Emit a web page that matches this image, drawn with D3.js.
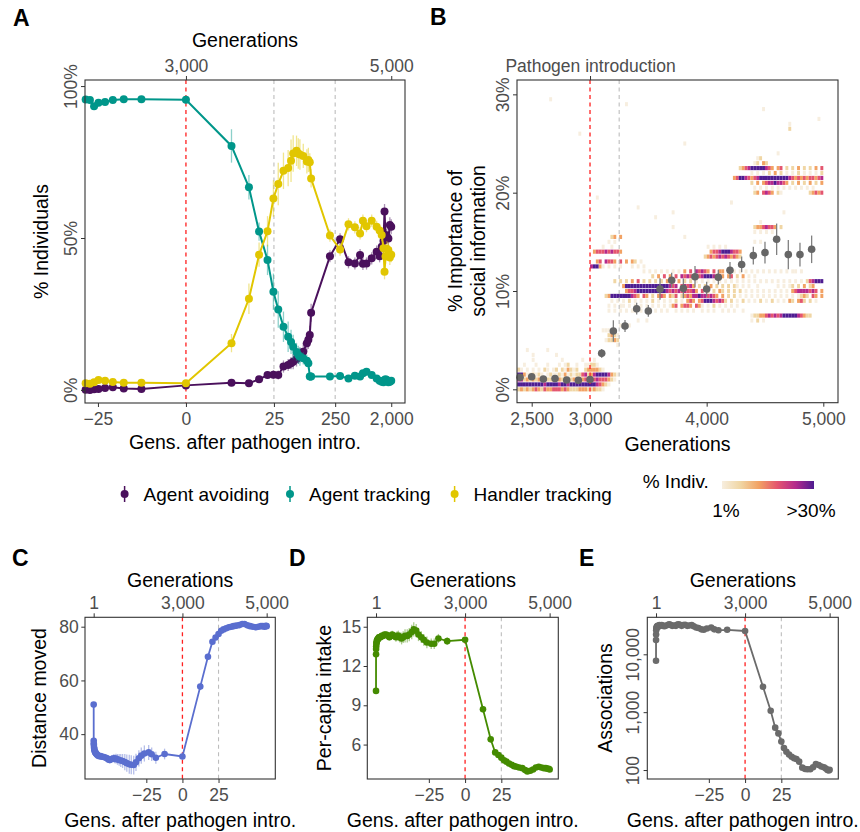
<!DOCTYPE html>
<html>
<head>
<meta charset="utf-8">
<script src="https://cdn.jsdelivr.net/npm/d3@7"></script>
<style>
  body { margin: 0; background: #fff; }
  svg text { font-family: "Liberation Sans", Arial, sans-serif; }
</style>
</head>
<body>
<div id="chart"></div>
<script>
var svgWidth = 860;
var svgHeight = 832;

// ---- Panel A: strategy shares, gens relative to pathogen intro ----
var gensA = [-40, -34, -29, -24.5, -19, -14, -9, -4.2, 0,
  4.4, 9.3, 14, 19.5, 24.5, 29.5, 36, 43, 48, 52, 59, 63, 67, 76, 87, 92, 97, 102,
  206, 300, 410, 520, 630, 700, 800, 970, 1165, 1300, 1405, 1500, 1560, 1620, 1700, 1800, 1900, 2000];
var avoidA = [0.1, 0.0, 0.2, 0.3, 0.6, 0.9, 0.5, 0.3, 1.5,
  2.4, 2.2, 3.5, 4.9, 5.0, 4.9, 7.7, 8.2, 8.8, 9.3, 10.2, 11.0, 11.5, 12.6, 15.4, 16.5, 18.1, 25.4,
  44, 49.6, 42, 41.6, 44.4, 41.5, 41.6, 43.3, 45.5, 44, 47.1, 49, 58.7, 51, 50.5, 49.8, 54.3, 53.7];
var trackA = [95.6, 95.4, 93.4, 94.5, 94.8, 95.4, 95.7, 95.7, 95.5,
  80.3, 66.7, 52.1, 42.8, 32.3, 26.5, 20.8, 17.5, 15.8, 14.2, 12.5, 11.5, 11.0, 10.4, 9.6, 8.8, 4.4, 4.4,
  4.4, 4.6, 3.8, 4.7, 4.4, 5.5, 6.0, 4.9, 3.8, 3.0, 2.7, 2.5, 3.3, 3.5, 3.3, 2.5, 2.7, 3.0];
var handlerA = [2.2, 2.0, 2.5, 3.3, 3.0, 2.6, 2.4, 2.4, 2.2,
  15.4, 30, 44.5, 52.2, 63, 67.8, 72.1, 73, 75.4, 77.8, 78.7, 77.8, 77.5, 77, 75.2, 75.7, 74.9, 69.6,
  50.8, 46.2, 54.5, 53.5, 51.5, 55.7, 53.9, 55.7, 53.7, 52.5, 51, 46.6, 38.9, 43.9, 46.5, 46, 43.6, 44.5];
var avoidErrA = [0.4, 0.4, 0.4, 0.4, 0.4, 0.4, 0.4, 0.4, 0.4,
  0.8, 0.8, 1, 1.2, 1.5, 1.5, 2, 2, 2, 2.5, 2.5, 2.5, 2.5, 3, 3, 3, 3, 3,
  2, 2, 2, 2, 2, 2, 2, 2, 2, 2, 2, 2, 2.5, 2.5, 2.5, 2.5, 2.5, 2.5];
var trackErrA = [0.5, 0.5, 0.5, 0.5, 0.5, 0.5, 0.5, 0.5, 0.5,
  5.5, 4, 3, 5, 6, 6, 5, 5, 4, 4, 3, 3, 3, 2, 2, 2, 1.5, 1.5,
  1, 1, 1, 1, 1, 1, 1, 1, 1, 1, 1, 1, 1, 1, 1, 1, 1, 1];
var handlerErrA = [0.5, 0.5, 0.5, 0.5, 0.5, 0.5, 0.5, 0.5, 0.5,
  3, 5, 4, 5, 6, 7, 6, 6, 7, 6, 5, 5, 5, 4, 4, 4, 3, 3,
  2, 2, 2, 2, 2, 2, 2, 2, 2, 2, 2, 2, 2.5, 2.5, 2.5, 2.5, 2.5, 2.5];
var strategyNames = ["Agent avoiding", "Agent tracking", "Handler tracking"];
var strategyColors = ["#4a105c", "#00968a", "#e1c600"];

// ---- Panel B: social information importance ----
var gensB = [2400, 2500, 2600, 2700, 2800, 2900, 3000, 3100, 3200, 3300, 3400, 3500, 3600,
  3700, 3800, 3900, 4000, 4100, 4200, 4300, 4400, 4500, 4600, 4700, 4800, 4900];
var meanB = [1.22, 1.28, 1.05, 1.1, 0.95, 0.92, 1.0, 3.66, 5.93, 6.44, 8.2, 7.97, 10.2,
  11.1, 10.27, 11.45, 10.2, 11.4, 12.1, 12.7, 13.6, 13.9, 15.26, 13.7, 13.7, 14.24];
var errB = [0.2, 0.2, 0.2, 0.2, 0.2, 0.2, 0.2, 0.45, 1.1, 0.6, 0.6, 0.6, 1.1,
  0.75, 1.0, 1.1, 0.75, 0.75, 0.85, 0.8, 0.9, 1.1, 1.6, 1.5, 1.2, 1.4];
// heatmap rows: [% bin, first generation, one level digit per 25 generations]
var heatRows = [
  [0.0, 2375, "2323234324334443432223332232210"],
  [0.5, 2375, "66666666656666566566666666654321"],
  [1.0, 2375, "55232323222232322223343443454443210"],
  [1.5, 2375, "66311212101211213121224523566665321"],
  [2.0, 2375, "210101010210120213212002333321"],
  [2.5, 2375, "0010001000100010120010011221"],
  [3.0, 2375, "000001000000000100000010001"],
  [3.5, 2500, "1000000010"],
  [4.0, 2450, "10000001"],
  [4.5, 3225, "1"],
  [5.0, 3125, "12232"],
  [5.5, 3150, "2321"],
  [6.0, 3075, "011100"],
  [6.5, 3250, "1001"],
  [7.0, 3400, "1001"],
  [7.0, 4350, "0102010"],
  [7.5, 4375, "122334545456666654322"],
  [8.0, 3150, "10101010110100101010100101010100101010010101001"],
  [8.5, 3150, "1010110101010101010101340344304310102010101010"],
  [9.0, 3175, "101010201010102010101020103430346665454202010201010201020101032034202010"],
  [9.5, 3125, "236666666543043020343032402343556554543030202010101010101010101010123204303"],
  [10.0, 3300, "34456666666666545454544530402020320202020101010101010101034555545403"],
  [10.5, 3275, "3666666666666666545045453020203020202021010100100000010101202030230"],
  [11.0, 3200, "202020304020202020304030202010101010101010101010101010101010101010245666"],
  [11.5, 3525, "2030403040545435456665443034020301010"],
  [12.0, 3450, "1010101010101030405454304033020101010101010101010101101"],
  [12.5, 3000, "5663101010100010101"],
  [13.0, 3050, "34054430403032010"],
  [13.5, 3975, "2343454543432"],
  [14.0, 3025, "3444545443"],
  [14.0, 4025, "34456665443"],
  [14.5, 3100, "1001"],
  [14.5, 4000, "1010101"],
  [15.0, 3150, "1010"],
  [15.0, 4400, "101"],
  [15.5, 3175, "2303"],
  [15.5, 3800, "1"],
  [16.0, 4400, "1010101"],
  [16.5, 3700, "1"],
  [16.5, 4400, "2334544302"],
  [17.0, 4450, "1"],
  [17.5, 3550, "1"],
  [18.0, 3700, "1"],
  [18.0, 4650, "1"],
  [18.5, 3400, "1"],
  [19.0, 4200, "1"],
  [19.5, 3050, "1"],
  [20.0, 4400, "2304543021"],
  [20.0, 4875, "23434"],
  [20.5, 4400, "1010101010101010101010"],
  [21.0, 4375, "2030345565543020302030203"],
  [21.5, 4225, "3466543456666666666543434344345"],
  [22.0, 4375, "1010102030201010201010102"],
  [22.5, 4275, "23456666654303402020302020304"],
  [23.0, 4400, "12032"],
  [23.5, 4425, "12"],
  [24.0, 4600, "1"],
  [25.0, 3800, "1"],
  [26.0, 2900, "1"],
  [26.5, 4700, "2"],
  [27.0, 4700, "1"],
  [27.5, 4950, "1"],
  [28.5, 4475, "1"],
  [29.0, 3300, "1"],
  [29.5, 2650, "1"]
];
var heatColors = ["#f7eedf", "#f0d6a4", "#f2a264", "#e4566f", "#b42a8c", "#4e1c91"];

// ---- Panels C-E: shared generation sampling ----
var gensCDE = [-2999, -2990, -2975, -2950, -2900, -2850, -2800, -2700, -2600, -2500, -2400, -2300, -2200,
  -2000, -1800, -1600, -1400, -1200, -1000, -900, -800, -700, -600, -500, -450, -400, -350, -300,
  -260, -220, -180, -150, -120, -100, -80, -65, -50, -40, -30, -20, -15, -10, -4, 0,
  4, 9, 14, 19, 25, 32, 40, 51, 65, 81, 100, 128, 170, 220, 270, 350, 450, 580, 750, 950, 1200, 1420, 1650, 1850, 2000];
var distanceC = [51, 37.5, 36.5, 36, 35, 34.5, 34, 33.5, 33.2, 33, 32.8, 32.5, 32.3,
  32, 31.8, 31.8, 31.6, 31.5, 31.2, 31, 30.6, 30.4, 30.7, 31, 30.8, 30.9, 30.6, 30.4,
  30.2, 30, 29.6, 29.2, 28.8, 28.6, 28.5, 29.5, 31, 32, 32.8, 33.2, 32.5, 31.2, 32.6, 31.7,
  57.7, 68.8, 74.4, 76, 77.3, 78.5, 79, 79.4, 79.8, 80, 80.2, 80.4, 80.6, 81, 81, 80.5, 80.2, 80, 79.8, 80, 80.2, 80.2, 80, 80.3, 80.2];
var distanceErrC = [0.5, 1, 1, 1, 1, 1, 1, 1, 1, 1, 1, 1, 1,
  1, 1, 1, 1, 1, 1.2, 1.2, 1.3, 1.3, 1.4, 1.5, 1.6, 1.8, 2, 2.2,
  2.4, 2.6, 3, 3.2, 3.5, 3.5, 3.5, 3.2, 3, 3, 3, 2.8, 2.5, 2.2, 2, 1.2,
  1.2, 1.2, 1, 1, 0.9, 0.8, 0.8, 0.7, 0.7, 0.7, 0.7, 0.7, 0.7, 0.7, 0.7, 0.7, 0.7, 0.7, 0.7, 0.7, 0.7, 0.7, 0.7, 0.7, 0.7];
var intakeD = [10.1, 12.9, 13.3, 13.5, 13.7, 13.8, 13.9, 14.0, 14.0, 14.1, 14.1, 14.2, 14.2,
  14.2, 14.3, 14.3, 14.4, 14.4, 14.3, 14.2, 14.3, 14.4, 14.3, 14.2, 14.3, 14.3, 14.2, 14.1,
  14.2, 14.3, 14.3, 14.4, 14.6, 14.8, 14.7, 14.4, 14.2, 14.0, 13.8, 13.7, 13.7, 14.1, 13.9, 14.0,
  8.7, 6.4, 5.4, 5.2, 5.0, 4.8, 4.7, 4.55, 4.45, 4.35, 4.3, 4.25, 4.2, 4.05, 3.95, 4.0, 4.1, 4.25, 4.3, 4.25, 4.2, 4.2, 4.15, 4.15, 4.1];
var intakeErrD = [0.2, 0.2, 0.2, 0.2, 0.2, 0.2, 0.2, 0.2, 0.2, 0.2, 0.2, 0.2, 0.2,
  0.2, 0.2, 0.2, 0.2, 0.2, 0.25, 0.25, 0.3, 0.3, 0.3, 0.35, 0.35, 0.4, 0.4, 0.45,
  0.45, 0.5, 0.5, 0.5, 0.55, 0.55, 0.5, 0.5, 0.45, 0.45, 0.45, 0.4, 0.4, 0.35, 0.3, 0.2,
  0.25, 0.2, 0.2, 0.15, 0.15, 0.15, 0.15, 0.15, 0.15, 0.15, 0.15, 0.15, 0.15, 0.15, 0.15, 0.15, 0.15, 0.15, 0.15, 0.15, 0.15, 0.15, 0.15, 0.15, 0.15];
var associationsE = [7745, 17600, 22000, 26000, 28000, 29000, 30000, 30500, 31000, 30000, 31000, 30500, 32000,
  31500, 32000, 31000, 30500, 31500, 32500, 33000, 32000, 31000, 31500, 31000, 32500, 33000, 32500, 31000,
  32000, 32500, 31000, 31500, 32000, 30500, 29000, 28500, 27000, 26500, 28000, 29000, 27000, 26000, 26500, 25300,
  2750, 1060, 540, 430, 310, 240, 207, 185, 170, 160, 155, 140, 110, 104, 103, 103, 112, 127, 122, 115, 112, 106, 100, 98, 101];

// ---- common styling ----
var tickCol = "#4d4d4d", frameCol = "#333333";
var titleSize = "19.5px", tickSize = "17.5px";

var svg = d3.select("#chart").append("svg")
  .attr("width", svgWidth)
  .attr("height", svgHeight);

function axisG(axis, tx, ty) {
  var g = svg.append("g").attr("transform", "translate(" + tx + "," + ty + ")").call(axis);
  g.attr("font-size", null).attr("font-family", null);
  g.select(".domain").remove();
  g.selectAll(".tick line").attr("stroke", frameCol);
  g.selectAll(".tick text").attr("fill", tickCol).style("font-size", tickSize);
  return g;
}

function rotateTicks(g, off) {
  g.selectAll(".tick text")
    .attr("transform", "rotate(-90)")
    .attr("x", 0).attr("y", -off).attr("dy", "0")
    .attr("text-anchor", "middle");
}

function frame(x0, y0, x1, y1) {
  svg.append("rect")
    .attr("x", x0).attr("y", y0)
    .attr("width", x1 - x0).attr("height", y1 - y0)
    .attr("fill", "none").attr("stroke", frameCol).attr("stroke-width", 1.1);
}

function vline(x, y0, y1, col, w) {
  svg.append("line")
    .attr("x1", x).attr("x2", x).attr("y1", y0).attr("y2", y1)
    .attr("stroke", col).attr("stroke-width", w).attr("stroke-dasharray", "4,3.5");
}

function label(txt, x, y, size, opts) {
  opts = opts || {};
  var t = svg.append("text").attr("x", x).attr("y", y)
    .attr("text-anchor", opts.anchor || "middle")
    .style("font-size", size).attr("fill", opts.fill || "#000")
    .text(txt);
  if (opts.bold) t.style("font-weight", "bold");
  if (opts.rotate) t.attr("x", 0).attr("y", 0).attr("transform", "translate(" + x + "," + y + ")rotate(-90)");
  return t;
}

function drawSeries(xs, ys, gens, vals, errs, col, r, lw) {
  var g = svg.append("g");
  var pts = gens.map(function(d, i) { return { g: d, v: vals[i], e: errs ? errs[i] : 0 }; });
  if (errs) {
    g.selectAll(null).data(pts).enter().append("line")
      .attr("x1", d => xs(d.g)).attr("x2", d => xs(d.g))
      .attr("y1", d => ys(d.v - d.e)).attr("y2", d => ys(d.v + d.e))
      .attr("stroke", col).attr("stroke-opacity", 0.45).attr("stroke-width", 1.3);
  }
  g.append("path").datum(pts)
    .attr("d", d3.line().x(d => xs(d.g)).y(d => ys(d.v)))
    .attr("fill", "none").attr("stroke", col).attr("stroke-width", lw);
  g.selectAll(null).data(pts).enter().append("circle")
    .attr("cx", d => xs(d.g)).attr("cy", d => ys(d.v))
    .attr("r", r).attr("fill", col);
}

// ================= Panel A =================
var xA = d3.scaleSymlog().domain([-41, 3330]).range([85, 405]);
var yA = d3.scaleLinear().domain([-4.3, 102]).range([403, 80]);

vline(xA(0), 80, 403, "#ff2020", 1.3);
vline(xA(25), 80, 403, "#bdbdbd", 1.1);
vline(xA(250), 80, 403, "#bdbdbd", 1.1);

drawSeries(xA, yA, gensA, avoidA, avoidErrA, strategyColors[0], 4, 2);
drawSeries(xA, yA, gensA, trackA, trackErrA, strategyColors[1], 4, 2);
drawSeries(xA, yA, gensA, handlerA, handlerErrA, strategyColors[2], 4, 2);

frame(85, 80, 405, 403);
axisG(d3.axisTop(xA).tickValues([0, 2000]).tickFormat(d => d === 0 ? "3,000" : "5,000").tickSize(4).tickPadding(4.5), 0, 80);
axisG(d3.axisBottom(xA).tickValues([-25, 0, 25, 250, 2000]).tickFormat(d3.format(",")).tickSize(4).tickPadding(5.5), 0, 403);
rotateTicks(axisG(d3.axisLeft(yA).tickValues([0, 50, 100]).tickFormat(d => d + "%").tickSize(4), 85, 0), 8.5);

label("A", 13, 26, "23px", { anchor: "start", bold: true });
label("Generations", 245, 47, titleSize);
label("Gens. after pathogen intro.", 245, 449, titleSize);
label("% Individuals", 48, 241.5, titleSize, { rotate: true });

// ================= Panel B =================
var xB = d3.scaleLinear().domain([2374, 5126]).range([517, 838]);
var yB = d3.scaleLinear().domain([-1.36, 31.46]).range([402.7, 80]);
var heatColor = d3.scaleLinear().domain([1, 2, 3, 4, 5, 6]).range(heatColors);

var cells = [];
heatRows.forEach(function(row) {
  for (var i = 0; i < row[2].length; i++) {
    var lv = +row[2][i];
    var gen = row[1] + 25 * i;
    if (lv > 0 && gen < 5000) cells.push({ pct: row[0], gen: gen, level: lv });
  }
});

svg.append("clipPath").attr("id", "clipB").append("rect")
  .attr("x", 517).attr("y", 80).attr("width", 321).attr("height", 322.7);

svg.append("g").attr("clip-path", "url(#clipB)")
  .selectAll("rect").data(cells).enter().append("rect")
  .attr("x", d => xB(d.gen))
  .attr("width", d => xB(d.gen + 25) - xB(d.gen))
  .attr("y", d => yB(d.pct + 0.21))
  .attr("height", d => yB(d.pct - 0.21) - yB(d.pct + 0.21))
  .attr("fill", d => heatColor(d.level));

vline(xB(3000), 80, 402.7, "#ff2020", 1.3);
vline(xB(3250), 80, 402.7, "#bdbdbd", 1.1);
svg.append("g").selectAll("line").data(gensB).enter().append("line")
  .attr("x1", d => xB(d)).attr("x2", d => xB(d))
  .attr("y1", (d, i) => yB(meanB[i] - errB[i])).attr("y2", (d, i) => yB(meanB[i] + errB[i]))
  .attr("stroke", "#808080").attr("stroke-width", 1.3);
svg.append("g").selectAll("circle").data(gensB).enter().append("circle")
  .attr("cx", d => xB(d)).attr("cy", (d, i) => yB(meanB[i]))
  .attr("r", 3.8).attr("fill", "#666666");

frame(517, 80, 838, 402.7);
axisG(d3.axisTop(xB).tickValues([3000]).tickFormat(() => "Pathogen introduction").tickSize(4).tickPadding(4.5), 0, 80);
axisG(d3.axisBottom(xB).tickValues([2500, 3000, 4000, 5000]).tickFormat(d3.format(",")).tickSize(4).tickPadding(5.5), 0, 402.7);
rotateTicks(axisG(d3.axisLeft(yB).tickValues([0, 10, 20, 30]).tickFormat(d => d + "%").tickSize(4), 517, 0), 8.5);

label("B", 430, 25, "23px", { anchor: "start", bold: true });
label("Generations", 677.5, 451, titleSize);
label("% Importance of", 462, 241, titleSize, { rotate: true });
label("social information", 485, 241, titleSize, { rotate: true });

// ================= Legends =================
var legendX = [124.6, 290, 454.6];
strategyNames.forEach(function(name, i) {
  svg.append("line").attr("x1", legendX[i]).attr("x2", legendX[i])
    .attr("y1", 486).attr("y2", 502).attr("stroke", strategyColors[i]).attr("stroke-width", 1.5);
  svg.append("circle").attr("cx", legendX[i]).attr("cy", 494).attr("r", 4).attr("fill", strategyColors[i]);
  label(name, legendX[i] + 19, 494, "19px", { anchor: "start" }).attr("dy", "0.35em");
});

var grad = svg.append("defs").append("linearGradient").attr("id", "heatGrad");
heatColors.forEach(function(c, i) {
  grad.append("stop").attr("offset", (i / (heatColors.length - 1) * 100) + "%").attr("stop-color", c);
});
label("% Indiv.", 642.7, 488, "19px", { anchor: "start" });
svg.append("rect").attr("x", 722).attr("y", 481).attr("width", 92).attr("height", 8).attr("fill", "url(#heatGrad)");
label("1%", 726, 517, "19px");
label(">30%", 811, 517, "19px");

// ================= Panels C, D, E =================
function lowerPanel(x0, x1, yScale, vals, errs, col, yAxis, rotate, yTitle, yTitleX, letter, letterX) {
  var xs = d3.scaleSymlog().domain([-6568, 4358]).range([x0, x1]);
  var mid = (x0 + x1) / 2;
  vline(xs(0), 617.3, 779, "#ff2020", 1.3);
  vline(xs(25), 617.3, 779, "#bdbdbd", 1.1);
  drawSeries(xs, yScale, gensCDE, vals, errs, col, 3.3, 1.8);
  frame(x0, 617.3, x1, 779);
  axisG(d3.axisTop(xs).tickValues([-2999, 0, 2000]).tickFormat(d => d === -2999 ? "1" : (d === 0 ? "3,000" : "5,000")).tickSize(4).tickPadding(4.5), 0, 617.3);
  axisG(d3.axisBottom(xs).tickValues([-25, 0, 25]).tickFormat(d3.format(",")).tickSize(4).tickPadding(5.5), 0, 779);
  var ya = axisG(yAxis.tickSize(3.7).tickPadding(2.5), x0, 0);
  if (rotate) rotateTicks(ya, 8.5);
  label("Generations", mid, 587, titleSize);
  label("Gens. after pathogen intro.", mid, 827, titleSize);
  label(yTitle, yTitleX, 698, titleSize, { rotate: true });
  label(letter, letterX, 566, "23px", { anchor: "start", bold: true });
}

var yC = d3.scaleLinear().domain([23.3, 83.5]).range([779, 617.3]);
var yD = d3.scaleLinear().domain([3.37, 15.72]).range([779, 617.3]);
var yE = d3.scaleLog().domain([70, 43600]).range([779, 617.3]);

lowerPanel(85, 275.3, yC, distanceC, distanceErrC, "#5a6ecf",
  d3.axisLeft(yC).tickValues([40, 60, 80]), false, "Distance moved", 46, "C", 12);
lowerPanel(367.3, 558.3, yD, intakeD, intakeErrD, "#448b00",
  d3.axisLeft(yD).tickValues([6, 9, 12, 15]), false, "Per-capita intake", 331, "D", 289);
lowerPanel(647.3, 838.3, yE, associationsE, null, "#6b6b6b",
  d3.axisLeft(yE).tickValues([100, 1000, 10000]).tickFormat(d3.format(",")), true, "Associations", 612, "E", 579);
</script>
</body>
</html>
